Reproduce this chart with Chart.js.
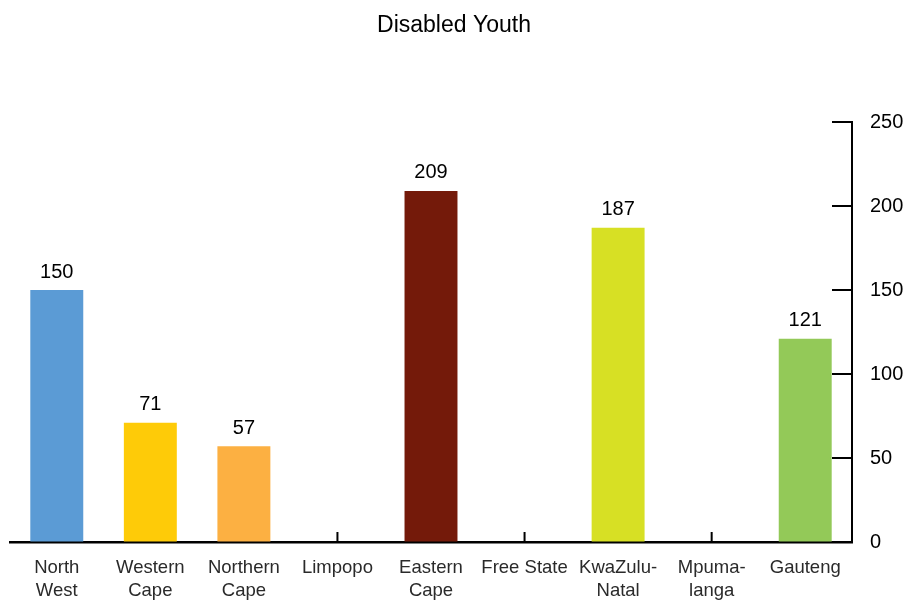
<!DOCTYPE html>
<html>
<head>
<meta charset="utf-8">
<title>Disabled Youth</title>
<script src="https://cdn.jsdelivr.net/npm/chart.js@4.4.1/dist/chart.umd.min.js"></script>
<style>
  html, body { margin: 0; padding: 0; background: #fff; }
  #wrap { width: 908px; height: 603px; }
</style>
</head>
<body>
<div id="wrap"><canvas id="youthChart" width="908" height="603"></canvas></div>
<script>
const provinces = [
  ['North', 'West'], ['Western', 'Cape'], ['Northern', 'Cape'], 'Limpopo',
  ['Eastern', 'Cape'], 'Free State', ['KwaZulu-', 'Natal'], ['Mpuma-', 'langa'], 'Gauteng'
];
const disabledYouth = [150, 71, 57, null, 209, null, 187, null, 121];
const barColours = ['#5b9bd5', '#fecb08', '#fcb042', '#cccccc', '#741a0a', '#cccccc', '#d7e024', '#cccccc', '#93c958'];
const yTicks = [0, 50, 100, 150, 200, 250];

const fontFamily = '"Liberation Sans", Arial, Helvetica, sans-serif';

// short tick marks pointing into the plot, under the bars
const innerTicks = {
  id: 'innerTicks',
  beforeDatasetsDraw(chart) {
    const { ctx, chartArea, scales } = chart;
    ctx.save();
    ctx.strokeStyle = '#000';
    ctx.lineWidth = 2;
    ctx.beginPath();
    scales.x.ticks.forEach((t, i) => {
      const x = scales.x.getPixelForTick(i);
      ctx.moveTo(x, chartArea.bottom);
      ctx.lineTo(x, chartArea.bottom - 10);
    });
    scales.y.ticks.forEach((t, i) => {
      const y = scales.y.getPixelForTick(i);
      ctx.moveTo(chartArea.right, y);
      ctx.lineTo(chartArea.right - 20, y);
    });
    ctx.stroke();
    ctx.restore();
  }
};

// value written above each bar
const barValues = {
  id: 'barValues',
  afterDatasetsDraw(chart) {
    const { ctx } = chart;
    const meta = chart.getDatasetMeta(0);
    ctx.save();
    ctx.fillStyle = '#000';
    ctx.font = '20px ' + fontFamily;
    ctx.textAlign = 'center';
    ctx.textBaseline = 'middle';
    meta.data.forEach((bar, i) => {
      const v = disabledYouth[i];
      if (v === null) return;
      ctx.fillText(String(v), bar.x, bar.y - 18);
    });
    ctx.restore();
  }
};

new Chart(document.getElementById('youthChart').getContext('2d'), {
  type: 'bar',
  data: {
    labels: provinces,
    datasets: [{
      label: 'Disabled Youth',
      data: disabledYouth,
      backgroundColor: barColours,
      barPercentage: 0.566,
      categoryPercentage: 1
    }]
  },
  options: {
    responsive: false,
    animation: false,
    layout: { padding: 0 },
    plugins: {
      legend: { display: false },
      tooltip: { enabled: false },
      title: {
        display: true,
        text: 'Disabled Youth',
        color: '#000',
        font: { family: fontFamily, size: 23, weight: 'normal' },
        padding: { top: 12, bottom: 82.4 }
      }
    },
    scales: {
      x: {
        grid: { display: true, drawOnChartArea: false, drawTicks: false },
        border: { display: true, color: '#000', width: 2.5 },
        ticks: {
          color: '#2a2a2a',
          padding: 14,
          maxRotation: 0,
          autoSkip: false,
          font: { family: fontFamily, size: 18.5, lineHeight: 1.25 }
        },
        afterFit(scale) { scale.height = 61; }
      },
      y: {
        position: 'right',
        min: 0,
        max: 250,
        afterBuildTicks(scale) { scale.ticks = yTicks.map(v => ({ value: v })); },
        grid: { display: true, drawOnChartArea: false, drawTicks: false },
        border: { display: true, color: '#000', width: 2 },
        ticks: {
          color: '#000',
          padding: 18,
          font: { family: fontFamily, size: 20 }
        },
        afterFit(scale) { scale.width = 56; }
      },
      // empty left gutter so the x axis line starts a little in from the edge
      gutter: {
        type: 'linear',
        position: 'left',
        grid: { display: false },
        border: { display: false },
        ticks: { display: false },
        afterFit(scale) { scale.width = 10; }
      }
    }
  },
  plugins: [innerTicks, barValues]
});
</script>
</body>
</html>
